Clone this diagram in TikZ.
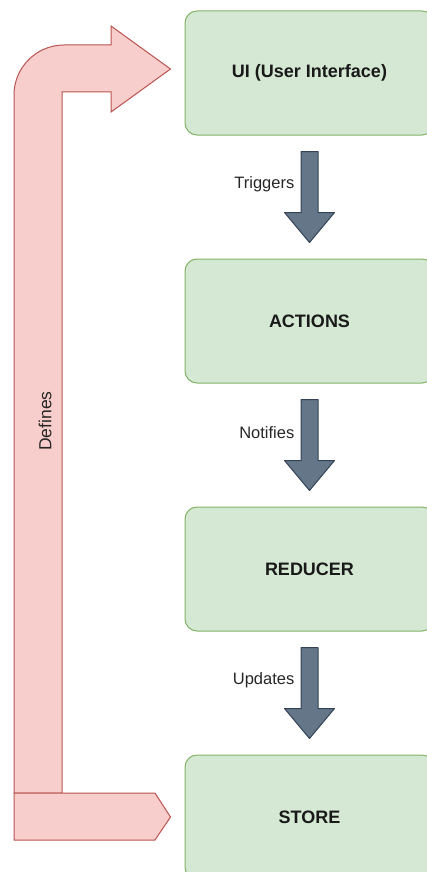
\documentclass[tikz,border=0pt]{standalone}
\usepackage{fontspec}
\setmainfont{Liberation Sans}
\usetikzlibrary{calc}
\definecolor{boxfill}{HTML}{D5E8D4}
\definecolor{boxline}{HTML}{82B366}
\definecolor{redfill}{HTML}{F8CECC}
\definecolor{redline}{HTML}{B85450}
\definecolor{darkfill}{HTML}{647687}
\definecolor{darkline}{HTML}{314354}
\tikzset{
  box/.style={draw=boxline, fill=boxfill, line width=1pt, rounded corners=12pt,
    minimum width=249pt, minimum height=124pt, inner sep=0pt,
    font=\fontsize{18}{21}\selectfont\bfseries, text=black!90},
  darkarrow/.style={draw=darkline, fill=darkfill, line width=1pt, line join=round},
  redarrow/.style={draw=redline, fill=redfill, line width=1pt},
  lbl/.style={inner sep=0pt, font=\fontsize{16.5}{19}\selectfont, text=black!85}
}
\begin{document}
\begin{tikzpicture}[x=1pt,y=-1pt]
\useasboundingbox (0,0) rectangle (426,872);
\node[box] (ui) at (309.5,73) {UI (User Interface)};
\node[box] (act) at (309.5,321) {ACTIONS};
\node[box] (red) at (309.5,569) {REDUCER};
\node[box] (store) at (309.5,817) {STORE};
\foreach \a/\b/\t in {ui/act/Triggers, act/red/Notifies, red/store/Updates} {
  \draw[darkarrow] ($(\a.south)+(-8.5,16)$) -- ($(\a.south)+(8.5,16)$)
    -- ($(\b.north)+(8.5,-46)$) -- ($(\b.north)+(25,-46)$)
    -- ($(\b.north)+(0,-16)$) -- ($(\b.north)+(-25,-46)$)
    -- ($(\b.north)+(-8.5,-46)$) -- cycle;
  \node[lbl, anchor=east] at ($(\a.south)+(-15,49)$) {\t};
}
% bent red arrow to UI
\coordinate (uitip) at ($(ui.west)+(-14,-4)$);
\draw[redarrow] (14,793) -- (14,95) arc[start angle=180, end angle=270, radius=50]
  -- (111,45) -- (111,26) -- (uitip) -- (111,112) -- (111,92) -- (62,92) -- (62,793) -- cycle;
% bottom pentagon to STORE
\coordinate (sttip) at ($(store.west)+(-14,0)$);
\draw[redarrow] (14,793) -- (155,793) -- (sttip) -- (155,840) -- (14,840) -- cycle;
\node[rotate=90, inner sep=0pt, font=\fontsize{17.5}{20}\selectfont, text=black!85] (def) at (45,421) {Defines};
\end{tikzpicture}
\end{document}
